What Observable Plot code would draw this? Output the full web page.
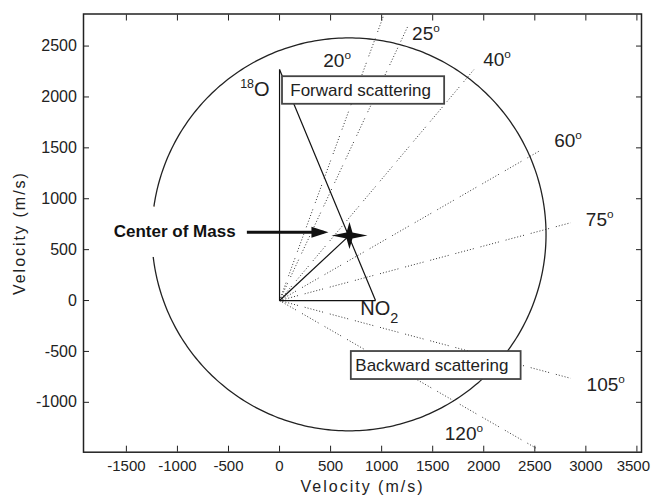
<!DOCTYPE html>
<html>
<head>
<meta charset="utf-8">
<script src="https://cdn.jsdelivr.net/npm/d3@7"></script>
<script src="https://cdn.jsdelivr.net/npm/@observablehq/plot@0.6"></script>
<style>
  html, body { margin: 0; padding: 0; background: #fff; }
  #chart svg { display: block; }
</style>
</head>
<body>
<div id="chart"></div>
<script>
// ---------- data ----------
const xTicks = [-1500, -1000, -500, 0, 500, 1000, 1500, 2000, 2500, 3000, 3500];
const yTicks = [-1000, -500, 0, 500, 1000, 1500, 2000, 2500];
const xDomain = [-1920, 3545];
const yDomain = [-1490, 2815];

// Newton diagram (m/s)
const oxygenVelocity = 2270;     // 18O beam velocity (along y)
const no2Velocity = 940;         // NO2 beam velocity (along x)
const centerOfMass = [685, 640];
const circleCenter = [680, 650];
const circleRadius = 1930;

// lab-frame detection angles (deg from the 18O beam) and ray lengths
const rayAngles = [20, 25, 40, 60, 75, 105, 120];
const rayLengths = [2980, 2980, 2960, 2950, 2950, 2950, 2900];

// angle labels
const angleText = ["20^{o}", "25^{o}", "40^{o}", "60^{o}", "75^{o}", "105^{o}", "120^{o}"];
const angleLabelX = [428, 1298, 1994, 2690, 3000, 3007, 1618];
const angleLabelY = [2357, 2623, 2362, 1572, 796, -825, -1313];

// species labels
const speciesText = ["^{18}O", "NO_{2}"];
const speciesX = [-385, 791];
const speciesY = [2073, -83];

// boxed labels
const boxText = ["Forward scattering", "Backward scattering"];
const boxX1 = [29, 703];
const boxX2 = [1617, 2366];
const boxY1 = [2199, -501];
const boxY2 = [1928, -776];
const boxTextX = [105, 742];

// center-of-mass annotation
const cmText = ["Center of Mass"];
const cmTextPos = [-1027, 678];
const arrowStart = [-320, 672];
const arrowEnd = [430, 672];

// ---------- derived tables ----------
const rad = Math.PI / 180;
const rays = rayAngles.map((a, i) => ({
  x1: 0, y1: 0,
  x2: rayLengths[i] * Math.sin(a * rad),
  y2: rayLengths[i] * Math.cos(a * rad)
}));
const circlePoints = d3.range(0, 361, 1).map(a => ({
  x: circleCenter[0] + circleRadius * Math.cos(a * rad),
  y: circleCenter[1] + circleRadius * Math.sin(a * rad)
}));
const vectors = [
  {x1: 0, y1: 0, x2: 0, y2: oxygenVelocity},
  {x1: 0, y1: 0, x2: no2Velocity, y2: 0},
  {x1: 0, y1: oxygenVelocity, x2: no2Velocity, y2: 0},
  {x1: 0, y1: 0, x2: centerOfMass[0], y2: centerOfMass[1]}
];
const boxes = boxText.map((t, i) => ({
  label: t, x1: boxX1[i], x2: boxX2[i], y1: boxY1[i], y2: boxY2[i],
  tx: boxTextX[i], ty: (boxY1[i] + boxY2[i]) / 2
}));
const angleLabels = angleText.map((t, i) => ({t, x: angleLabelX[i], y: angleLabelY[i]}));
const species = speciesText.map((t, i) => ({t, x: speciesX[i], y: speciesY[i]}));
const cm = [{t: cmText[0], x: cmTextPos[0], y: cmTextPos[1]}];
const arrow = [{x1: arrowStart[0], y1: arrowStart[1], x2: arrowEnd[0], y2: arrowEnd[1]}];

// custom symbols
const starSymbol = {
  draw(ctx) {
    const h = 18, v = 13.5, w = 3;
    ctx.moveTo(h, 0); ctx.lineTo(w, -w); ctx.lineTo(0, -v); ctx.lineTo(-w, -w);
    ctx.lineTo(-h, 0); ctx.lineTo(-w, w); ctx.lineTo(0, v); ctx.lineTo(w, w);
    ctx.closePath();
  }
};
const arrowHead = {
  draw(ctx) {
    ctx.moveTo(5, 0); ctx.lineTo(-12, -5.5); ctx.lineTo(-12, 5.5); ctx.closePath();
  }
};

const FONT = "'Liberation Sans', Arial, Helvetica, sans-serif";
const INK = "#222";
const fmt = d => String(d);

const plot = Plot.plot({
  width: 652,
  height: 499,
  marginLeft: 83,
  marginRight: 11,
  marginTop: 13.5,
  marginBottom: 47.3,
  x: {domain: xDomain},
  y: {domain: yDomain},
  style: {fontFamily: FONT, fontSize: "16px", color: INK, background: "white"},
  marks: [
    Plot.link(rays, {x1: "x1", y1: "y1", x2: "x2", y2: "y2", stroke: "#333", strokeWidth: 1, strokeDasharray: "1,2,1,2,1,2,1,2,1,2,1,2,1,7"}),
    Plot.line(circlePoints, {x: "x", y: "y", stroke: "#222", strokeWidth: 1.3}),
    Plot.link(vectors, {x1: "x1", y1: "y1", x2: "x2", y2: "y2", stroke: "#111", strokeWidth: 1.2}),
    Plot.rect(boxes, {x1: "x1", x2: "x2", y1: "y1", y2: "y2", fill: "white", stroke: "#444", strokeWidth: 1.8}),
    Plot.text(boxes, {x: "tx", y: "ty", text: "label", textAnchor: "start", lineAnchor: "middle", fontSize: 17, fill: INK}),
    Plot.text(cm, {x: "x", y: "y", text: "t", textAnchor: "middle", lineAnchor: "middle", fontSize: 17, fontWeight: "bold", fill: "#111", stroke: "white", strokeWidth: 40, strokeLinejoin: "round"}),
    Plot.link(arrow, {x1: "x1", y1: "y1", x2: "x2", y2: "y2", stroke: "#111", strokeWidth: 3}),
    Plot.dot(arrow, {x: "x2", y: "y2", symbol: arrowHead, fill: "#111", stroke: "none"}),
    Plot.dot([{x: centerOfMass[0], y: centerOfMass[1]}], {x: "x", y: "y", symbol: starSymbol, fill: "#111", stroke: "none"}),
    Plot.text(species, {x: "x", y: "y", text: "t", textAnchor: "start", lineAnchor: "middle", fontSize: 20, fill: INK}),
    Plot.text(angleLabels, {x: "x", y: "y", text: "t", textAnchor: "start", lineAnchor: "middle", fontSize: 19, fill: INK}),
    // axes with inward ticks
    Plot.axisX(xTicks, {anchor: "bottom", tickSize: 6, dy: -6, tickPadding: 8, label: null, tickFormat: fmt, fontSize: 15, stroke: INK}),
    Plot.axisX(xTicks, {anchor: "top", tickSize: 6, dy: 6, tickPadding: 0, label: null, tickFormat: () => "", stroke: INK}),
    Plot.axisY(yTicks, {anchor: "left", tickSize: 6, dx: 6, tickPadding: 6.6, label: null, tickFormat: fmt, fontSize: 16, stroke: INK}),
    Plot.axisY(yTicks, {anchor: "right", tickSize: 6, dx: -6, tickPadding: 0, label: null, tickFormat: () => "", stroke: INK}),
    Plot.text(["Velocity (m/s)"], {frameAnchor: "bottom", dy: 35, text: d => d, textAnchor: "middle", lineAnchor: "middle", fontSize: 16, fill: INK}),
    Plot.text(["Velocity (m/s)"], {frameAnchor: "left", dx: -64, rotate: -90, text: d => d, textAnchor: "middle", lineAnchor: "middle", fontSize: 16, fill: INK}),
    Plot.frame({stroke: "#222", strokeWidth: 1.5})
  ]
});

document.getElementById("chart").appendChild(plot);

// ---------- text post-processing: super/subscripts, halo order, spacing ----------
const SVGNS = "http://www.w3.org/2000/svg";
plot.querySelectorAll("text").forEach(t => {
  const s = t.textContent;
  if (s === "Center of Mass") {
    t.style.paintOrder = "stroke";
    t.setAttribute("stroke-linejoin", "round");
  }
  if (s === "Velocity (m/s)") {
    t.setAttribute("letter-spacing", "2px");
  }
  if (s === "3500") {
    // keep the last x tick label inside the picture
    const right = t.getBoundingClientRect().right;
    if (right > 650) t.setAttribute("dx", (650 - right).toFixed(2));
  }
  if (!/[\^_]\{/.test(s)) return;
  const fs = parseFloat(getComputedStyle(t).fontSize) || 16;
  while (t.firstChild) t.removeChild(t.firstChild);
  const re = /([\^_])\{([^}]*)\}|([^\^_]+)/g;
  let m, shift = 0;
  while ((m = re.exec(s))) {
    const ts = document.createElementNS(SVGNS, "tspan");
    if (m[1]) {
      const target = m[1] === "^" ? -0.42 * fs : 0.4 * fs;
      ts.setAttribute("dy", (target - shift).toFixed(2));
      shift = target;
      ts.setAttribute("font-size", ((m[1] === "^" ? 0.62 : 0.72) * fs).toFixed(2));
      ts.textContent = m[2];
    } else {
      ts.setAttribute("dy", (-shift).toFixed(2));
      shift = 0;
      ts.textContent = m[3];
    }
    t.appendChild(ts);
  }
});
</script>
</body>
</html>
